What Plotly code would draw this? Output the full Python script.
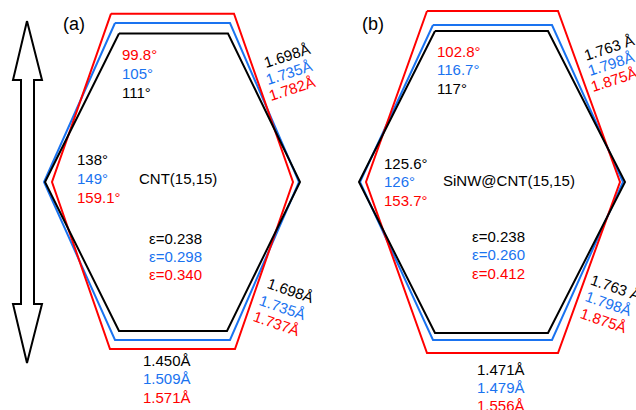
import plotly.graph_objects as go

# ---- geometry of the hexagons (drawing units = canvas pixels, y downward) ----
# each hexagon: [top_left_x, top_right_x, top_y, right_vertex_x, mid_y, bottom_right_x, bottom_left_x, bottom_y, left_vertex_x]
hex_a_black = [119, 228, 33.5, 300, 182, 227, 119, 331, 45]
hex_a_blue = [115, 230, 23, 299, 182, 230, 115, 340, 44]
hex_a_red = [111, 234, 13.7, 293, 182, 235, 110, 349, 52]
hex_b_black = [435, 548, 31, 625, 182, 548, 435, 333, 359]
hex_b_blue = [433, 552, 25, 623, 182, 552, 433, 340, 360]
hex_b_red = [427, 558, 11, 620, 182, 558, 427, 353, 366]

# double-headed arrow outline
arrow_x = [27, 42, 34, 34, 42, 27, 13, 21, 21, 13, 27]
arrow_y = [21, 80, 80, 304, 304, 363, 304, 304, 80, 80, 21]

BLACK = "#000000"
BLUE = "#1a73f0"
RED = "#ff0000"

# ---- labels ----
panel_labels = ["(a)", "(b)"]
titles = ["CNT(15,15)", "SiNW@CNT(15,15)"]
top_angles_a = ["99.8°", "105°", "111°"]
top_angles_b = ["102.8°", "116.7°", "117°"]
side_angles_a = ["138°", "149°", "159.1°"]
side_angles_b = ["125.6°", "126°", "153.7°"]
strain_a = ["ε=0.238", "ε=0.298", "ε=0.340"]
strain_b = ["ε=0.238", "ε=0.260", "ε=0.412"]
upper_bond_a = ["1.698Å", "1.735Å", "1.782Å"]
upper_bond_b = ["1.763 Å", "1.798Å", "1.875Å"]
lower_bond_a = ["1.698Å", "1.735Å", "1.737Å"]
lower_bond_b = ["1.763 Å", "1.798Å", "1.875Å"]
bottom_bond_a = ["1.450Å", "1.509Å", "1.571Å"]
bottom_bond_b = ["1.471Å", "1.479Å", "1.556Å"]


def hex_xy(h):
    tlx, trx, ty, rx, my, brx, blx, by, lx = h
    xs = [tlx, trx, rx, brx, blx, lx, tlx]
    ys = [ty, ty, my, by, by, my, ty]
    return xs, ys


fig = go.Figure()
for h, c in [(hex_a_blue, BLUE), (hex_a_red, RED), (hex_a_black, BLACK),
             (hex_b_blue, BLUE), (hex_b_red, RED), (hex_b_black, BLACK)]:
    xs, ys = hex_xy(h)
    fig.add_trace(go.Scatter(x=xs, y=ys, mode="lines",
                             line=dict(color=c, width=2), hoverinfo="skip",
                             showlegend=False))

fig.add_trace(go.Scatter(x=arrow_x, y=arrow_y, mode="lines",
                         line=dict(color=BLACK, width=2), hoverinfo="skip",
                         showlegend=False))

FONT = "Arial, Liberation Sans, sans-serif"
ann = []


def add(text, x, y, color, anchor="center", angle=0, size=15):
    ann.append(dict(text=text, x=x, y=y, xref="x", yref="y", showarrow=False,
                    xanchor=anchor, yanchor="middle", textangle=angle,
                    font=dict(family=FONT, size=size, color=color)))


# panel labels
add(panel_labels[0], 74, 24, BLACK, size=18)
add(panel_labels[1], 373, 24, BLACK, size=18)
# titles
add(titles[0], 178, 178, BLACK)
add(titles[1], 509, 180, BLACK)

# top angles (order red, blue, black)
for i, (t, c) in enumerate(zip(top_angles_a, [RED, BLUE, BLACK])):
    add(t, 120, 54 + 19 * i, c, anchor="left")
for i, (t, c) in enumerate(zip(top_angles_b, [RED, BLUE, BLACK])):
    add(t, 435, 51 + 18.5 * i, c, anchor="left")

# side angles (order black, blue, red)
for i, (t, c) in enumerate(zip(side_angles_a, [BLACK, BLUE, RED])):
    add(t, 75, 159 + 19 * i, c, anchor="left")
for i, (t, c) in enumerate(zip(side_angles_b, [BLACK, BLUE, RED])):
    add(t, 382, 163 + 18.5 * i, c, anchor="left")

# strain
for i, (t, c) in enumerate(zip(strain_a, [BLACK, BLUE, RED])):
    add(t, 175, 238 + 18 * i, c)
for i, (t, c) in enumerate(zip(strain_b, [BLACK, BLUE, RED])):
    add(t, 498, 236 + 18.5 * i, c)

# upper right bonds (rotated)
for (t, c, x, y) in zip(upper_bond_a, [BLACK, BLUE, RED], [287, 289, 292], [55, 72, 88]):
    add(t, x, y, c, angle=-18)
for (t, c, x, y) in zip(upper_bond_b, [BLACK, BLUE, RED], [609, 611, 614], [47, 63, 79]):
    add(t, x, y, c, angle=-18)

# lower right bonds (rotated)
for (t, c, x, y) in zip(lower_bond_a, [BLACK, BLUE, RED], [291, 283, 277], [290, 307, 323]):
    add(t, x, y, c, angle=19)
for (t, c, x, y) in zip(lower_bond_b, [BLACK, BLUE, RED], [616, 609, 604], [287, 303, 320]):
    add(t, x, y, c, angle=19)

# bottom bonds
for i, (t, c) in enumerate(zip(bottom_bond_a, [BLACK, BLUE, RED])):
    add(t, 167, 360 + 18.5 * i, c)
for i, (t, c) in enumerate(zip(bottom_bond_b, [BLACK, BLUE, RED])):
    add(t, 501, 369 + 18 * i, c)

fig.update_layout(
    width=636, height=410,
    margin=dict(l=0, r=0, t=0, b=0),
    paper_bgcolor="white", plot_bgcolor="white",
    xaxis=dict(range=[0, 636], visible=False, fixedrange=True),
    yaxis=dict(range=[410, 0], visible=False, fixedrange=True),
    annotations=ann,
    showlegend=False,
)
fig.write_html("out.html", config={"displayModeBar": False},
               post_script="document.body.style.margin='0px';document.body.style.overflow='hidden';")
